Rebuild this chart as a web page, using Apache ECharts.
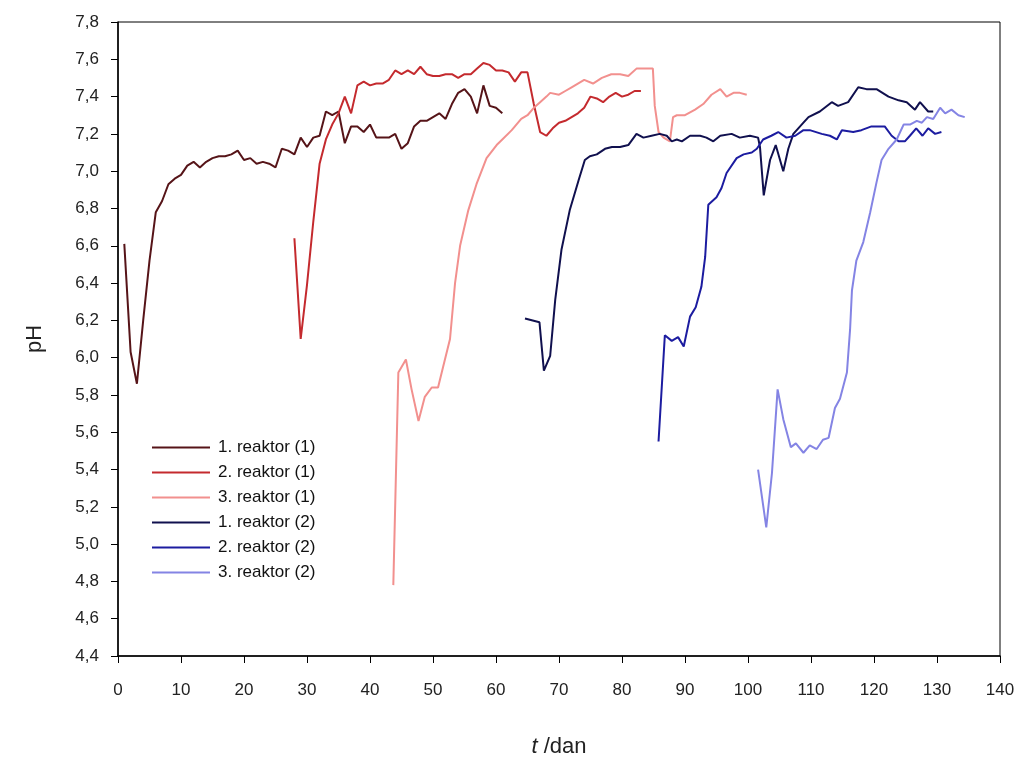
<!DOCTYPE html>
<html>
<head>
<meta charset="utf-8">
<title>pH</title>
<script src="https://cdn.jsdelivr.net/npm/echarts@6/dist/echarts.min.js"></script>
<style>
  html, body { margin: 0; padding: 0; background: #fff; }
  #container { width: 1024px; height: 758px; }
</style>
</head>
<body>
<div id="container"></div>
<script>
// [t (dan), pH]
var reaktor1a = [[1,6.61],[2,6.03],[3,5.86],[4,6.20],[5,6.52],[6,6.78],[7,6.84],[8,6.93],[9,6.96],[10,6.98],[11,7.03],[12,7.05],[13,7.02],[14,7.05],[15,7.07],[16,7.08],[17,7.08],[18,7.09],[19,7.11],[20,7.06],[21,7.07],[22,7.04],[23,7.05],[24,7.04],[25,7.02],[26,7.12],[27,7.11],[28,7.09],[29,7.18],[30,7.13],[31,7.18],[32,7.19],[33,7.32],[34,7.30],[35,7.32],[36,7.15],[37,7.24],[38,7.24],[39,7.21],[40,7.25],[41,7.18],[42,7.18],[43,7.18],[44,7.20],[45,7.12],[46,7.15],[47,7.24],[48,7.27],[49,7.27],[50,7.29],[51,7.31],[52,7.28],[53,7.36],[54,7.42],[55,7.44],[56,7.40],[57,7.31],[58,7.46],[59,7.35],[60,7.34],[61,7.31]];
var reaktor2a = [[28,6.64],[29,6.10],[30,6.39],[31,6.73],[32,7.04],[33,7.17],[34,7.25],[35,7.31],[36,7.40],[37,7.31],[38,7.46],[39,7.48],[40,7.46],[41,7.47],[42,7.47],[43,7.49],[44,7.54],[45,7.52],[46,7.54],[47,7.52],[48,7.56],[49,7.52],[50,7.51],[51,7.51],[52,7.52],[53,7.52],[54,7.50],[55,7.52],[56,7.52],[57,7.55],[58,7.58],[59,7.57],[60,7.54],[61,7.54],[62,7.53],[63,7.48],[64,7.53],[65,7.53],[66,7.36],[67,7.21],[68,7.19],[69,7.23],[70,7.26],[71,7.27],[72,7.29],[73,7.31],[74,7.34],[75,7.40],[76,7.39],[77,7.37],[78,7.40],[79,7.42],[80,7.40],[81,7.41],[82,7.43],[83,7.43]];
var reaktor3a = [[43.7,4.78],[44.5,5.92],[45.7,5.99],[46.6,5.83],[47.7,5.66],[48.7,5.79],[49.8,5.84],[50.8,5.84],[51.6,5.95],[52.7,6.10],[53.5,6.40],[54.3,6.60],[55.6,6.79],[56.9,6.93],[58.5,7.07],[60.1,7.14],[61,7.17],[62.5,7.22],[64,7.28],[65,7.30],[66,7.34],[67,7.37],[68,7.40],[68.6,7.42],[70,7.41],[71,7.43],[72,7.45],[73,7.47],[74,7.49],[75.4,7.47],[76.8,7.50],[78.3,7.52],[79.7,7.52],[81,7.51],[82.3,7.55],[83.9,7.55],[84.9,7.55],[85.2,7.35],[85.8,7.21],[86.6,7.18],[87.6,7.16],[88.1,7.29],[88.7,7.30],[90,7.30],[91.6,7.33],[92.9,7.36],[94.2,7.41],[95.6,7.44],[96.6,7.40],[97.7,7.42],[98.7,7.42],[99.8,7.41]];
var reaktor1b = [[64.6,6.21],[66.9,6.19],[67.6,5.93],[68.6,6.01],[69.4,6.31],[70.4,6.58],[71.7,6.79],[73.1,6.95],[74.1,7.06],[74.9,7.08],[76,7.09],[77.3,7.12],[78.4,7.13],[79.7,7.13],[81,7.14],[82.3,7.20],[83.4,7.18],[84.7,7.19],[86,7.20],[87.1,7.19],[87.9,7.16],[88.7,7.17],[89.5,7.16],[90.8,7.19],[92.4,7.19],[93.4,7.18],[94.5,7.16],[95.6,7.19],[97.4,7.20],[98.7,7.18],[100.3,7.19],[101.6,7.18],[101.9,7.13],[102.5,6.87],[103.5,7.06],[104.4,7.14],[105.6,7.00],[106.4,7.12],[107.2,7.20],[108.8,7.26],[109.6,7.29],[111.4,7.32],[113.3,7.37],[114.3,7.35],[115.9,7.37],[117.5,7.45],[118.8,7.44],[120.4,7.44],[122.3,7.40],[123.9,7.38],[125.2,7.37],[126.5,7.33],[127.3,7.37],[128.6,7.32],[129.4,7.32]];
var reaktor2b = [[85.8,5.55],[86.8,6.12],[87.9,6.09],[88.9,6.11],[89.8,6.06],[90.8,6.22],[91.7,6.27],[92.6,6.38],[93.2,6.54],[93.7,6.82],[95,6.86],[95.8,6.91],[96.6,6.99],[98.2,7.07],[99.3,7.09],[100.6,7.10],[101.4,7.12],[102.4,7.17],[103.7,7.19],[104.8,7.21],[106.1,7.18],[107.5,7.19],[108.8,7.22],[109.8,7.22],[111.7,7.20],[113,7.19],[114.1,7.17],[114.9,7.22],[116.7,7.21],[118,7.22],[119.6,7.24],[121.7,7.24],[122.8,7.19],[123.9,7.16],[124.9,7.16],[125.7,7.19],[126.7,7.23],[127.7,7.19],[128.6,7.23],[129.7,7.20],[130.7,7.21]];
var reaktor3b = [[101.6,5.40],[102.9,5.09],[103.8,5.38],[104.7,5.83],[105.6,5.67],[106.8,5.52],[107.6,5.54],[108.8,5.49],[109.8,5.53],[110.9,5.51],[111.9,5.56],[112.8,5.57],[113.8,5.73],[114.6,5.78],[115.7,5.92],[116.2,6.15],[116.5,6.36],[117.2,6.52],[118.3,6.62],[119.4,6.78],[120.4,6.94],[121.2,7.06],[122.3,7.12],[123.6,7.17],[124.7,7.25],[125.7,7.25],[126.8,7.27],[127.6,7.26],[128.4,7.29],[129.4,7.28],[130.5,7.34],[131.3,7.31],[132.3,7.33],[133.4,7.30],[134.4,7.29]];

var names = ['1. reaktor (1)','2. reaktor (1)','3. reaktor (1)','1. reaktor (2)','2. reaktor (2)','3. reaktor (2)'];
var colors = ['#561418','#c42a2e','#f2908e','#10104e','#1c1ca0','#8484e4'];
var allData = [reaktor1a, reaktor2a, reaktor3a, reaktor1b, reaktor2b, reaktor3b];

var myChart = echarts.init(document.getElementById('container'));
var series = [];
for (var i = 0; i < allData.length; i++) {
  series.push({
    name: names[i],
    type: 'line',
    data: allData[i],
    showSymbol: false,
    symbol: 'none',
    lineStyle: { color: colors[i], width: 2 },
    itemStyle: { color: colors[i] }
  });
}
var option = {
  animation: false,
  backgroundColor: '#fff',
  textStyle: { fontFamily: 'Liberation Sans, Arial, sans-serif' },
  grid: { left: 118, right: 24, top: 22, bottom: 102, outerBoundsMode: 'none', containLabel: false,
          show: true, borderColor: '#000', borderWidth: 1 },
  legend: {
    orient: 'vertical',
    left: 147, top: 434,
    itemWidth: 58, itemHeight: 14, itemGap: 8,
    icon: 'path://M0,6 L56,6 L56,8 L0,8 Z',
    textStyle: { fontSize: 17, color: '#111', padding: [0, 0, 0, 3] },
    data: names
  },
  xAxis: {
    type: 'value', min: 0, max: 140, interval: 10,
    name: '{i|t} /dan', nameLocation: 'middle', nameGap: 80,
    nameTextStyle: { fontSize: 22, color: '#222', rich: { i: { fontStyle: 'italic', fontSize: 22 } } },
    axisLine: { lineStyle: { color: '#000', width: 1.5 } },
    axisTick: { show: true, inside: false, length: 7, lineStyle: { color: '#000' } },
    axisLabel: { fontSize: 17, color: '#222', margin: 26 },
    splitLine: { show: false }
  },
  yAxis: {
    type: 'value', min: 4.4, max: 7.8, interval: 0.2,
    name: 'pH', nameLocation: 'middle', nameGap: 72, nameRotate: 90,
    nameTextStyle: { fontSize: 22, color: '#222' },
    axisLine: { show: true, lineStyle: { color: '#000', width: 1.5 } },
    axisTick: { show: true, inside: false, length: 7, lineStyle: { color: '#000' } },
    axisLabel: { fontSize: 17, color: '#222', margin: 19, formatter: function (v) { return v.toFixed(1).replace('.', ','); } },
    splitLine: { show: false }
  },
  series: series
};
myChart.setOption(option);
</script>
</body>
</html>
